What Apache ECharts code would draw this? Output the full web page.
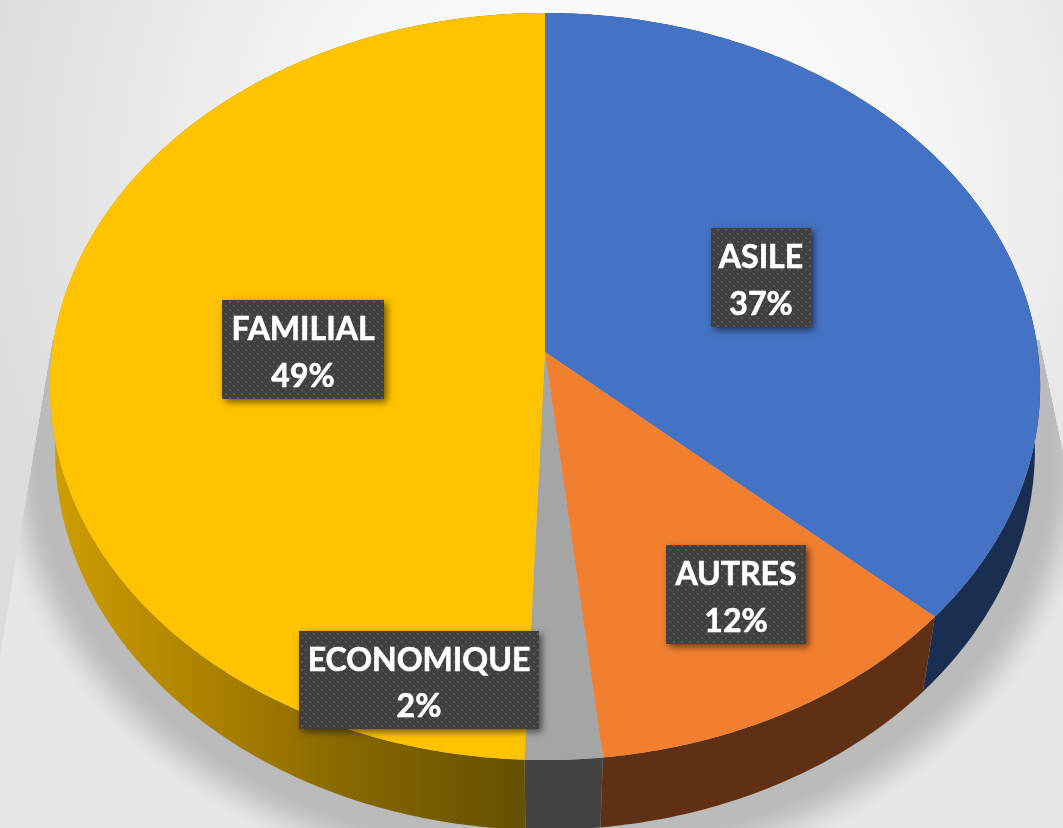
<!DOCTYPE html>
<html><head><meta charset="utf-8">
<style>html,body{margin:0;padding:0;background:#fff}#c{width:1063px;height:828px}</style>
<script src="https://cdn.jsdelivr.net/npm/echarts@6/dist/echarts.min.js"></script>
</head><body><div id="c"></div>
<script>
const categories = ['ASILE', 'AUTRES', 'ECONOMIQUE', 'FAMILIAL'];
const values = [36.7, 11.6, 2.3, 49.4];
const percentLabels = ['37%', '12%', '2%', '49%'];
const topColors = ['#4472C4', '#F27F30', '#A5A5A5', '#FFC300'];
const wallColors = ['#1A2E52', '#5F3013', '#434343', null];
// label box layout: [left, top, width, height]
const labelBoxes = [[711,228,100,99],[666,545,140,99],[299,631,240,98],[222,300,162,99]];

const GEO = {cx:545, cy:352, A:370.3, B:493, k:0.0924, A2:378.7, B2:489, k2:0.06, cy2:427};
function proj(theta, bottom, grow){
  const X = Math.sin(theta), Y = -Math.cos(theta), g = grow || 0;
  if(bottom){
    const den = 1 - GEO.k2*Y;
    return [GEO.cx + (GEO.B2+g)*X/den, GEO.cy2 + (GEO.A2+g)*Y/den];
  }
  const den = 1 - GEO.k*Y;
  return [GEO.cx + GEO.B*X/den, GEO.cy + GEO.A*Y/den];
}
const total = values.reduce((a,b)=>a+b,0);
function sliceRange(i){
  let a = 0; for(let j=0;j<i;j++) a += values[j];
  return [a/total*2*Math.PI, (a+values[i])/total*2*Math.PI];
}
function arc(a,b,bottom,grow){
  const n = Math.max(4, Math.ceil((b-a)/0.01)), pts=[];
  for(let i=0;i<=n;i++) pts.push(proj(a+(b-a)*i/n,bottom,grow));
  return pts;
}
const dots = document.createElement('canvas');
dots.width = 8; dots.height = 8;
(function(){
  const g = dots.getContext('2d');
  g.fillStyle = '#404040'; g.fillRect(0,0,8,8);
  g.fillStyle = '#565656'; g.fillRect(1,1,2,2); g.fillRect(5,5,2,2);
})();
const yellowWall = new echarts.graphic.LinearGradient(60,0,525,0,[
  {offset:0,color:'#CC9C00'},{offset:0.35,color:'#A97F00'},{offset:0.62,color:'#876700'},{offset:1,color:'#655000'}
],true);
// the soft floor shadow under the pie, kept inside a wedge that widens downward
function wedgeLeft(y){ return 53 - (y-340)*0.167; }
function wedgeRight(y){ return 1039 + (y-340)*0.21; }
function clampRing(pts){
  return pts.map(p=>{
    const y = Math.max(p[1],340);
    return [Math.min(Math.max(p[0],wedgeLeft(y)),wedgeRight(y)),y];
  });
}
function shadowElements(){
  const els = [{type:'polygon',shape:{points:[[wedgeLeft(340),340],[wedgeLeft(860),860],[wedgeRight(860),860],[wedgeRight(340),340]]},style:{fill:'#E6E6E6'}}];
  for(let d=64;d>=0;d-=2){
    const t = Math.min(1,Math.max(0,(d-16)/48)), e = t*t*(3-2*t);
    const v = Math.round(0xBB + (0xE6-0xBB)*e);
    els.push({type:'polygon',shape:{points:clampRing(arc(0,2*Math.PI,true,d))},style:{fill:'rgb('+v+','+v+','+v+')'}});
  }
  return els;
}
const itemData = categories.map((c,i)=>({name:c,value:values[i]}));
const chart = echarts.init(document.getElementById('c'),null,{renderer:'canvas'});
chart.setOption({
  animation:false,
  backgroundColor:new echarts.graphic.RadialGradient(0.58,0.22,0.78,[
    {offset:0,color:'#FFFFFF'},{offset:0.45,color:'#F6F6F6'},{offset:1,color:'#DCDCDC'}
  ]),
  series:[
    {type:'custom',coordinateSystem:'none',silent:true,z:1,data:[0],
     renderItem(){ return {type:'group',children:shadowElements()}; }},
    {type:'custom',coordinateSystem:'none',silent:true,z:2,data:itemData,
     renderItem(p){
       const [a,b] = sliceRange(p.dataIndex);
       return {type:'polygon',shape:{points:arc(a,b,false).concat(arc(a,b,true).reverse())},
         style:{fill:wallColors[p.dataIndex]||yellowWall}};
     }},
    {type:'custom',coordinateSystem:'none',silent:true,z:3,data:itemData,
     renderItem(p){
       const [a,b] = sliceRange(p.dataIndex);
       return {type:'polygon',shape:{points:[[GEO.cx,GEO.cy]].concat(arc(a,b,false))},
         style:{fill:topColors[p.dataIndex]}};
     }},
    {type:'custom',coordinateSystem:'none',silent:true,z:4,data:itemData,
     renderItem(p){
       const i = p.dataIndex, [l,t,w,h] = labelBoxes[i];
       const font = 'bold 32px Lato, "Open Sans", sans-serif';
       const txt = (s,y)=>({type:'text',x:l+w/2,y:y,style:{text:s,fill:'#fff',stroke:'#fff',lineWidth:0.6,font,align:'center',verticalAlign:'middle'}});
       return {type:'group',children:[
         {type:'rect',shape:{x:l,y:t,width:w,height:h},
          style:{fill:{image:dots,repeat:'repeat'},shadowBlur:7,shadowOffsetX:3,shadowOffsetY:3,shadowColor:'rgba(0,0,0,0.55)'}},
         txt(categories[i],t+h*0.30),
         txt(percentLabels[i],t+h*0.77)
       ]};
     }}
  ]
});
</script></body></html>
